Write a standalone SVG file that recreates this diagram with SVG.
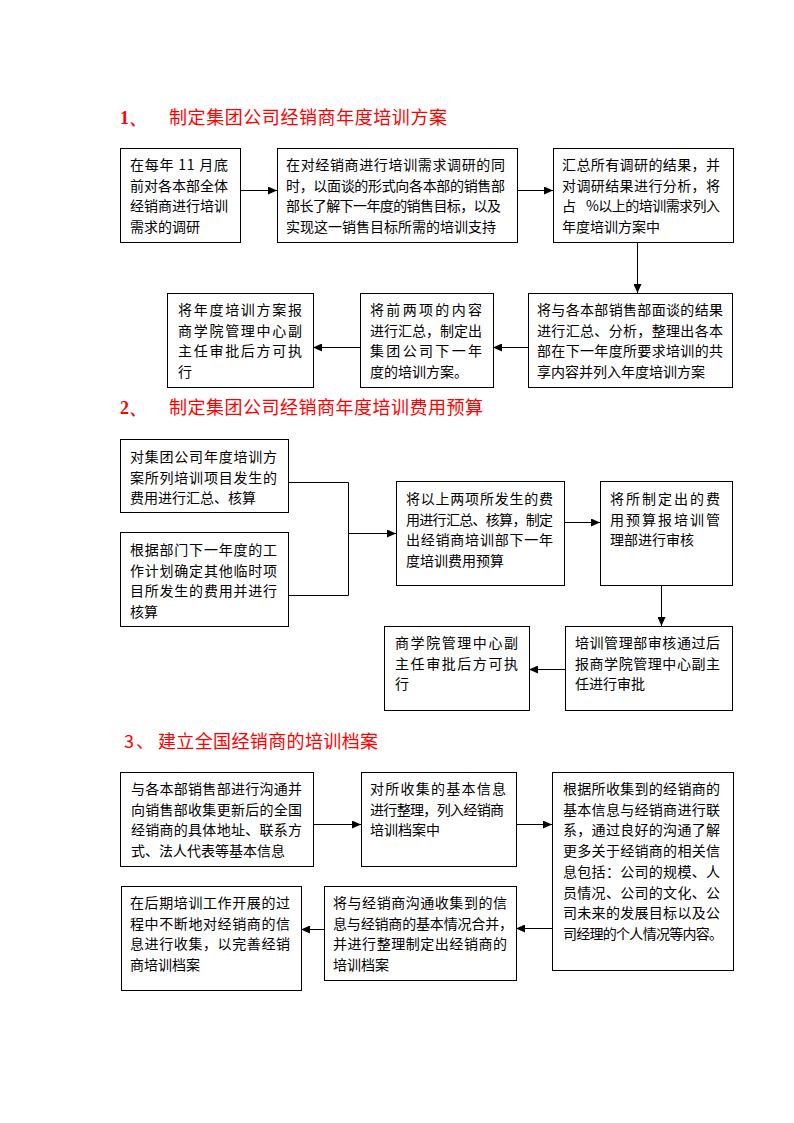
<svg xmlns="http://www.w3.org/2000/svg" width="794" height="1123" viewBox="0 0 794 1123">
<style>
.box{fill:#fff;stroke:#000;stroke-width:1}
.t{font-family:"Noto Sans CJK SC","Noto Sans CJK JP",sans-serif;font-size:14px;fill:#000}
.h{font-family:"Noto Sans CJK SC","Noto Sans CJK JP",sans-serif;font-size:18px;fill:#ff0000}
.hn{font-family:"Liberation Serif",serif;font-size:18px;font-weight:bold;fill:#ff0000}
.c{fill:none;stroke:#000;stroke-width:1}
</style>
<defs>
<marker id="ah" markerUnits="userSpaceOnUse" markerWidth="10" markerHeight="8" refX="9" refY="4" orient="auto">
<path d="M0,0 L9,4 L0,8 Z" fill="#000"/>
</marker>
</defs>
<rect width="794" height="1123" fill="#fff"/>

<g id="titles">
<text class="hn" x="120" y="124">1、</text>
<text class="h" x="169" y="124" textLength="278">制定集团公司经销商年度培训方案</text>
<text class="hn" x="120" y="414">2、</text>
<text class="h" x="169" y="414" textLength="314">制定集团公司经销商年度培训费用预算</text>
<text class="h" x="124" y="748">3</text>
<text class="h" x="136" y="748">、</text>
<text class="h" x="158" y="748" textLength="220">建立全国经销商的培训档案</text>
</g>

<g id="connectors">
<line class="c" x1="240" y1="190.5" x2="277" y2="190.5" marker-end="url(#ah)"/>
<line class="c" x1="517" y1="190.5" x2="553" y2="190.5" marker-end="url(#ah)"/>
<line class="c" x1="637.5" y1="242" x2="637.5" y2="293" marker-end="url(#ah)"/>
<line class="c" x1="528" y1="347.5" x2="493" y2="347.5" marker-end="url(#ah)"/>
<line class="c" x1="360" y1="347.5" x2="313" y2="347.5" marker-end="url(#ah)"/>
<path class="c" d="M288,482.5 H348.5 V595.5 H288"/>
<line class="c" x1="348.5" y1="533.5" x2="396" y2="533.5" marker-end="url(#ah)"/>
<line class="c" x1="564" y1="522.5" x2="600" y2="522.5" marker-end="url(#ah)"/>
<line class="c" x1="661.5" y1="585" x2="661.5" y2="626" marker-end="url(#ah)"/>
<line class="c" x1="565" y1="669.5" x2="529" y2="669.5" marker-end="url(#ah)"/>
<line class="c" x1="313" y1="824.5" x2="361" y2="824.5" marker-end="url(#ah)"/>
<line class="c" x1="516" y1="824.5" x2="552" y2="824.5" marker-end="url(#ah)"/>
<line class="c" x1="552" y1="928.5" x2="516" y2="928.5" marker-end="url(#ah)"/>
<line class="c" x1="324" y1="929.5" x2="301" y2="929.5" marker-end="url(#ah)"/>
</g>

<g id="nA">
<rect class="box" x="120.5" y="148.5" width="120" height="94"/>
<text class="t" x="130" y="170" textLength="98">在每年 11 月底</text>
<text class="t" x="130" y="190.5" textLength="98">前对各本部全体</text>
<text class="t" x="130" y="211" textLength="98">经销商进行培训</text>
<text class="t" x="130" y="231.5">需求的调研</text>
</g>
<g id="nB">
<rect class="box" x="277.5" y="148.5" width="240" height="94"/>
<text class="t" x="286" y="170" textLength="219">在对经销商进行培训需求调研的同</text>
<text class="t" x="286" y="190.5" textLength="219">时，以面谈的形式向各本部的销售部</text>
<text class="t" x="286" y="211" textLength="215">部长了解下一年度的销售目标，以及</text>
<text class="t" x="286" y="231.5">实现这一销售目标所需的培训支持</text>
</g>
<g id="nC">
<rect class="box" x="553.5" y="148.5" width="180" height="94"/>
<text class="t" x="562" y="170" textLength="158">汇总所有调研的结果，并</text>
<text class="t" x="562" y="190.5" textLength="158">对调研结果进行分析，将</text>
<text class="t" x="562" y="211">占</text>
<text class="t" x="586" y="211" textLength="134">%以上的培训需求列入</text>
<text class="t" x="562" y="231.5">年度培训方案中</text>
</g>
<g id="nD">
<rect class="box" x="528.5" y="293.5" width="204" height="94"/>
<text class="t" x="537" y="315" textLength="186">将与各本部销售部面谈的结果</text>
<text class="t" x="537" y="335.5" textLength="186">进行汇总、分析，整理出各本</text>
<text class="t" x="537" y="356" textLength="186">部在下一年度所要求培训的共</text>
<text class="t" x="537" y="376.5">享内容并列入年度培训方案</text>
</g>
<g id="nE">
<rect class="box" x="360.5" y="293.5" width="133" height="94"/>
<text class="t" x="370" y="315" textLength="112">将前两项的内容</text>
<text class="t" x="370" y="335.5" textLength="112">进行汇总，制定出</text>
<text class="t" x="370" y="356" textLength="112">集团公司下一年</text>
<text class="t" x="370" y="376.5">度的培训方案。</text>
</g>
<g id="nF">
<rect class="box" x="167.5" y="293.5" width="146" height="94"/>
<text class="t" x="178" y="315" textLength="124">将年度培训方案报</text>
<text class="t" x="178" y="335.5" textLength="124">商学院管理中心副</text>
<text class="t" x="178" y="356" textLength="124">主任审批后方可执</text>
<text class="t" x="178" y="376.5">行</text>
</g>

<g id="nG">
<rect class="box" x="120.5" y="439.5" width="168" height="73"/>
<text class="t" x="130" y="462" textLength="147">对集团公司年度培训方</text>
<text class="t" x="130" y="482.5" textLength="147">案所列培训项目发生的</text>
<text class="t" x="130" y="503">费用进行汇总、核算</text>
</g>
<g id="nH">
<rect class="box" x="120.5" y="532.5" width="168" height="94"/>
<text class="t" x="130" y="555" textLength="147">根据部门下一年度的工</text>
<text class="t" x="130" y="575.5" textLength="147">作计划确定其他临时项</text>
<text class="t" x="130" y="596" textLength="147">目所发生的费用并进行</text>
<text class="t" x="130" y="616.5">核算</text>
</g>
<g id="nI">
<rect class="box" x="396.5" y="481.5" width="168" height="104"/>
<text class="t" x="406" y="504" textLength="147">将以上两项所发生的费</text>
<text class="t" x="406" y="524.5" textLength="147">用进行汇总、核算，制定</text>
<text class="t" x="406" y="545" textLength="147">出经销商培训部下一年</text>
<text class="t" x="406" y="565.5">度培训费用预算</text>
</g>
<g id="nJ">
<rect class="box" x="600.5" y="481.5" width="132" height="104"/>
<text class="t" x="610" y="504" textLength="110">将所制定出的费</text>
<text class="t" x="610" y="524.5" textLength="110">用预算报培训管</text>
<text class="t" x="610" y="545">理部进行审核</text>
</g>
<g id="nK">
<rect class="box" x="565.5" y="626.5" width="167" height="84"/>
<text class="t" x="575" y="648" textLength="145">培训管理部审核通过后</text>
<text class="t" x="575" y="668.5" textLength="145">报商学院管理中心副主</text>
<text class="t" x="575" y="689">任进行审批</text>
</g>
<g id="nL">
<rect class="box" x="384.5" y="626.5" width="145" height="84"/>
<text class="t" x="395" y="648" textLength="123">商学院管理中心副</text>
<text class="t" x="395" y="668.5" textLength="123">主任审批后方可执</text>
<text class="t" x="395" y="689">行</text>
</g>

<g id="nM">
<rect class="box" x="120.5" y="772.5" width="193" height="94"/>
<text class="t" x="131" y="794" textLength="171">与各本部销售部进行沟通并</text>
<text class="t" x="131" y="814.5" textLength="171">向销售部收集更新后的全国</text>
<text class="t" x="131" y="835" textLength="171">经销商的具体地址、联系方</text>
<text class="t" x="131" y="855.5">式、法人代表等基本信息</text>
</g>
<g id="nN">
<rect class="box" x="361.5" y="772.5" width="155" height="94"/>
<text class="t" x="370" y="794" textLength="136">对所收集的基本信息</text>
<text class="t" x="370" y="814.5" textLength="134">进行整理，列入经销商</text>
<text class="t" x="370" y="835">培训档案中</text>
</g>
<g id="nO">
<rect class="box" x="552.5" y="772.5" width="181" height="198"/>
<text class="t" x="563" y="794" textLength="157">根据所收集到的经销商的</text>
<text class="t" x="563" y="814.7" textLength="157">基本信息与经销商进行联</text>
<text class="t" x="563" y="835.4" textLength="157">系，通过良好的沟通了解</text>
<text class="t" x="563" y="856.1" textLength="157">更多关于经销商的相关信</text>
<text class="t" x="563" y="876.8" textLength="157">息包括：公司的规模、人</text>
<text class="t" x="563" y="897.5" textLength="157">员情况、公司的文化、公</text>
<text class="t" x="563" y="918.2" textLength="157">司未来的发展目标以及公</text>
<text class="t" x="563" y="938.9" textLength="160">司经理的个人情况等内容。</text>
</g>
<g id="nP">
<rect class="box" x="324.5" y="886.5" width="192" height="94"/>
<text class="t" x="333" y="908" textLength="174">将与经销商沟通收集到的信</text>
<text class="t" x="333" y="928.5" textLength="180">息与经销商的基本情况合并，</text>
<text class="t" x="333" y="949" textLength="174">并进行整理制定出经销商的</text>
<text class="t" x="333" y="969.5">培训档案</text>
</g>
<g id="nQ">
<rect class="box" x="121.5" y="886.5" width="180" height="104"/>
<text class="t" x="130" y="908" textLength="160">在后期培训工作开展的过</text>
<text class="t" x="130" y="928.5" textLength="160">程中不断地对经销商的信</text>
<text class="t" x="130" y="949" textLength="160">息进行收集，以完善经销</text>
<text class="t" x="130" y="969.5">商培训档案</text>
</g>
</svg>
